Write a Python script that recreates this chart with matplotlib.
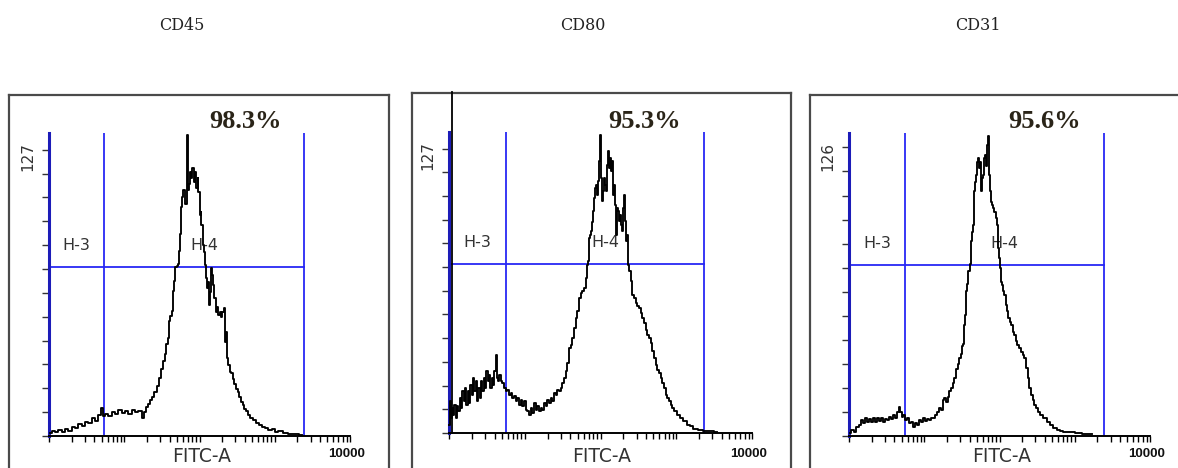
import matplotlib
matplotlib.use("Agg")
import matplotlib.pyplot as plt
import numpy as np

W, H = 1178, 468

titles = ["CD45", "CD80", "CD31"]
percents = ["98.3%", "95.3%", "95.6%"]
ymax_labels = [127, 127, 126]
gate_low = [10 ** 0.73, 10 ** 0.75, 10 ** 0.745]
gate_high = [10 ** 3.39, 10 ** 3.37, 10 ** 3.39]
gate_height = [71, 71.5, 71]
gate_names = ["H-3", "H-4"]
x_label = "FITC-A"
x_end_label = "10000"

# histogram readings: log10(FITC) position, event count
p1_dec = [0.013, 0.058, 0.102, 0.146, 0.190, 0.235, 0.279, 0.323, 0.368, 0.412,
          0.456, 0.501, 0.545, 0.589, 0.633, 0.678, 0.700, 0.722, 0.766, 0.811,
          0.855, 0.899, 0.944, 0.988, 1.032, 1.076, 1.121, 1.165, 1.209, 1.254,
          1.276, 1.298, 1.329, 1.355, 1.386, 1.417, 1.444, 1.475, 1.497, 1.524,
          1.550, 1.568, 1.586, 1.604, 1.621, 1.643, 1.657, 1.674, 1.688, 1.705,
          1.719, 1.732, 1.745, 1.759, 1.772, 1.798, 1.821, 1.834, 1.843, 1.852,
          1.865, 1.878, 1.896, 1.914, 1.931, 1.949, 1.967, 1.980, 1.993, 2.007,
          2.020, 2.033, 2.047, 2.064, 2.078, 2.095, 2.109, 2.122, 2.135, 2.149,
          2.162, 2.175, 2.188, 2.206, 2.224, 2.241, 2.259, 2.277, 2.295, 2.312,
          2.330, 2.343, 2.361, 2.375, 2.392, 2.410, 2.428, 2.450, 2.472, 2.494,
          2.516, 2.538, 2.560, 2.583, 2.605, 2.627, 2.658, 2.693, 2.729, 2.764,
          2.804, 2.848, 2.893, 2.937, 2.981, 3.025, 3.070, 3.136, 3.203, 3.269,
          3.358]
p1_cnt = [1.1, 2.1, 1.5, 2.5, 1.8, 2.9, 2.1, 3.9, 3.2, 4.9,
          4.3, 6.0, 5.3, 7.4, 6.3, 8.8, 11.6, 8.5, 9.1, 8.5,
          9.9, 9.1, 10.9, 9.5, 10.5, 9.4, 10.9, 9.9, 10.5, 7.7,
          10.2, 12.3, 13.3, 15.1, 16.5, 18.6, 20.8, 24.3, 27.9, 31.4,
          34.2, 38.4, 41.2, 48.2, 50.3, 52.4, 60.9, 65.1, 70.7, 71.4,
          72.1, 77.7, 84.7, 95.9, 100.1, 102.9, 97.3, 102.9, 126.1, 102.9,
          105.7, 110.8, 108.0, 112.2, 106.6, 110.8, 103.8, 108.0, 102.4, 92.6,
          94.0, 88.4, 80.0, 77.2, 71.6, 66.1, 61.9, 64.7, 54.9, 60.5,
          70.3, 67.5, 63.3, 57.7, 52.1, 54.2, 50.7, 52.1, 50.0, 52.1,
          53.5, 39.5, 43.7, 32.5, 29.7, 26.9, 26.2, 24.0, 21.9, 19.8,
          18.4, 16.3, 14.2, 12.8, 11.4, 10.3, 8.8, 7.4, 6.7, 5.3,
          4.6, 3.9, 3.2, 2.5, 2.8, 1.8, 2.1, 1.1, 0.7, 1.0,
          0.4]

p2_dec = [0.004, 0.018, 0.031, 0.044, 0.062, 0.079, 0.097, 0.114, 0.132, 0.150,
          0.167, 0.185, 0.202, 0.220, 0.238, 0.255, 0.273, 0.290, 0.308, 0.326,
          0.343, 0.361, 0.378, 0.396, 0.414, 0.431, 0.449, 0.466, 0.484, 0.502,
          0.519, 0.537, 0.554, 0.572, 0.590, 0.607, 0.625, 0.638, 0.651, 0.673,
          0.695, 0.717, 0.739, 0.761, 0.783, 0.805, 0.827, 0.849, 0.871, 0.893,
          0.915, 0.937, 0.959, 0.981, 1.003, 1.025, 1.047, 1.069, 1.091, 1.113,
          1.135, 1.157, 1.179, 1.201, 1.223, 1.245, 1.267, 1.289, 1.311, 1.333,
          1.355, 1.377, 1.399, 1.421, 1.443, 1.465, 1.487, 1.509, 1.531, 1.553,
          1.575, 1.597, 1.619, 1.641, 1.663, 1.685, 1.707, 1.729, 1.751, 1.773,
          1.795, 1.817, 1.831, 1.844, 1.857, 1.870, 1.883, 1.897, 1.910, 1.923,
          1.936, 1.949, 1.963, 1.976, 1.989, 2.002, 2.015, 2.024, 2.037, 2.050,
          2.064, 2.077, 2.090, 2.103, 2.116, 2.130, 2.143, 2.156, 2.169, 2.182,
          2.195, 2.209, 2.222, 2.235, 2.248, 2.262, 2.275, 2.288, 2.301, 2.314,
          2.328, 2.341, 2.354, 2.367, 2.389, 2.411, 2.433, 2.455, 2.477, 2.499,
          2.521, 2.543, 2.565, 2.587, 2.609, 2.631, 2.653, 2.675, 2.697, 2.719,
          2.741, 2.763, 2.785, 2.807, 2.829, 2.851, 2.873, 2.895, 2.917, 2.939,
          2.961, 2.984, 3.028, 3.072, 3.116, 3.160, 3.204, 3.248, 3.314, 3.380,
          3.468, 3.534]
p2_cnt = [3.5, 13.4, 6.3, 10.5, 7.7, 12.0, 6.3, 11.3, 9.1, 14.8,
          10.5, 17.6, 13.4, 19.0, 12.0, 17.6, 12.7, 20.4, 16.2, 23.2,
          17.6, 21.8, 13.4, 19.0, 14.8, 21.8, 17.6, 23.2, 19.0, 26.0,
          21.8, 24.6, 19.0, 23.2, 20.4, 26.0, 33.1, 23.2, 21.8, 24.6,
          21.8, 21.1, 19.0, 17.6, 18.3, 16.2, 16.9, 14.8, 15.5, 13.4,
          14.8, 12.0, 14.1, 11.3, 13.4, 9.8, 9.1, 7.7, 10.5, 8.4,
          12.7, 9.8, 11.3, 9.1, 10.5, 9.8, 12.7, 11.3, 14.1, 12.7,
          14.8, 13.4, 16.9, 16.2, 18.3, 17.6, 19.0, 21.1, 23.2, 26.0,
          29.5, 35.9, 37.3, 40.1, 44.3, 48.5, 51.3, 56.9, 59.1, 59.8,
          61.2, 65.4, 71.0, 72.4, 82.3, 83.7, 85.1, 89.0, 93.5, 99.2,
          103.4, 104.8, 100.6, 106.2, 114.6, 125.9, 107.6, 97.7, 101.9, 107.6,
          104.8, 101.9, 113.2, 118.8, 111.8, 116.0, 110.4, 114.6, 100.6, 104.8,
          96.3, 83.7, 94.9, 93.5, 89.3, 92.1, 87.9, 85.1, 94.9, 100.6,
          89.3, 80.9, 83.7, 71.0, 68.2, 64.0, 58.4, 57.0, 54.9, 53.4,
          52.7, 50.6, 48.5, 46.4, 43.6, 41.5, 40.1, 37.8, 34.5, 31.6,
          28.8, 26.7, 25.3, 23.2, 21.1, 19.0, 16.2, 14.8, 13.4, 12.0,
          10.5, 9.1, 7.7, 6.3, 4.9, 3.5, 2.8, 1.8, 1.4, 1.0,
          0.7, 0.4]

p3_dec = [0.013, 0.044, 0.080, 0.115, 0.146, 0.177, 0.204, 0.230, 0.257, 0.284,
          0.310, 0.337, 0.363, 0.390, 0.416, 0.443, 0.470, 0.496, 0.523, 0.549,
          0.576, 0.602, 0.629, 0.656, 0.669, 0.687, 0.709, 0.735, 0.762, 0.788,
          0.815, 0.842, 0.868, 0.895, 0.921, 0.948, 0.975, 1.001, 1.028, 1.054,
          1.081, 1.107, 1.134, 1.161, 1.187, 1.209, 1.231, 1.254, 1.276, 1.298,
          1.320, 1.342, 1.364, 1.387, 1.409, 1.431, 1.453, 1.475, 1.497, 1.511,
          1.524, 1.537, 1.550, 1.564, 1.577, 1.595, 1.612, 1.630, 1.643, 1.657,
          1.670, 1.683, 1.697, 1.710, 1.723, 1.737, 1.750, 1.763, 1.776, 1.790,
          1.803, 1.816, 1.830, 1.843, 1.852, 1.865, 1.878, 1.892, 1.905, 1.923,
          1.940, 1.958, 1.971, 1.984, 1.998, 2.011, 2.024, 2.038, 2.055, 2.073,
          2.091, 2.109, 2.126, 2.144, 2.162, 2.184, 2.206, 2.228, 2.250, 2.272,
          2.295, 2.317, 2.339, 2.361, 2.383, 2.405, 2.427, 2.450, 2.472, 2.494,
          2.516, 2.560, 2.605, 2.649, 2.693, 2.738, 2.782, 2.826, 2.870, 2.959,
          3.048, 3.136, 3.225]
p3_cnt = [1.1, 2.5, 1.8, 3.9, 4.6, 6.7, 5.3, 7.3, 6.0, 7.1,
          5.7, 7.3, 6.0, 7.6, 6.2, 7.3, 6.0, 7.1, 6.7, 8.0,
          7.1, 8.7, 7.6, 10.1, 12.2, 9.8, 8.0, 8.7, 6.7, 7.6,
          5.3, 6.0, 3.9, 5.3, 4.6, 6.7, 5.7, 7.3, 6.2, 7.1,
          6.7, 7.6, 7.3, 8.7, 9.8, 11.5, 10.8, 15.0, 15.7, 14.3,
          16.4, 18.6, 20.0, 22.1, 24.3, 27.7, 29.8, 32.6, 34.0, 37.5,
          38.1, 46.2, 50.5, 60.2, 63.1, 68.6, 71.4, 80.9, 85.0, 87.9,
          101.7, 105.8, 108.6, 114.1, 115.5, 111.4, 114.1, 101.7, 107.2, 108.6,
          115.5, 116.9, 112.1, 121.2, 124.7, 108.6, 101.7, 97.5, 96.1, 94.7,
          93.3, 90.6, 87.9, 78.1, 74.0, 69.8, 64.2, 62.8, 60.1, 58.7,
          54.5, 51.8, 49.0, 47.6, 46.2, 43.4, 42.0, 39.3, 37.9, 36.5,
          35.1, 33.7, 32.3, 28.2, 24.0, 19.8, 17.1, 15.0, 12.9, 11.5,
          10.1, 8.7, 7.3, 6.0, 4.6, 3.5, 2.5, 2.1, 1.8, 1.5,
          1.1, 1.0, 0.7]

series = [(p1_dec, p1_cnt), (p2_dec, p2_cnt), (p3_dec, p3_cnt)]

# layout in pixels (y-axis x, decade width, bottom, top, frame l/t/r, title x)
layout = [
    dict(x0=49, dw=75.25, yb=436, yt=133, fl=9, ft=95, fr=389, tx=182),
    dict(x0=449, dw=75.75, yb=433, yt=132, fl=412, ft=93, fr=791, tx=583),
    dict(x0=849, dw=75.25, yb=436, yt=133, fl=810, ft=95, fr=1200, tx=978),
]

BLUE = "#2727f5"
fig = plt.figure(figsize=(W / 100, H / 100), dpi=100)
fig.patch.set_facecolor("white")


def fx(px):
    return px / W


def fy(py):
    return 1 - py / H


for i, L in enumerate(layout):
    # outer frame (bottom edge lies below the figure)
    fa = fig.add_axes([fx(L["fl"]), fy(520), fx(L["fr"] - L["fl"]), (520 - L["ft"]) / H])
    fa.set_xticks([]); fa.set_yticks([])
    fa.set_facecolor("none")
    for s in fa.spines.values():
        s.set_color("#4a4a4a"); s.set_linewidth(1.6)
    fa.set_zorder(0)

    ax = fig.add_axes([fx(L["x0"]), fy(L["yb"]), fx(4 * L["dw"]), (L["yb"] - L["yt"]) / H])
    ax.set_facecolor("none")
    ax.set_zorder(1)
    ymax = ymax_labels[i]
    ax.set_xscale("log")
    ax.set_xlim(1, 1e4)
    ax.set_ylim(0, ymax)
    for s in ["top", "right"]:
        ax.spines[s].set_visible(False)
    ax.spines["left"].set_color("#1c1cb8")
    ax.spines["left"].set_linewidth(2.2)
    ax.spines["bottom"].set_color("black")
    ax.spines["bottom"].set_linewidth(1.4)
    ax.set_xticks([1, 10, 100, 1000, 10000])
    ax.xaxis.set_minor_locator(matplotlib.ticker.LogLocator(base=10, subs=np.arange(2, 10)))
    ax.xaxis.set_minor_formatter(matplotlib.ticker.NullFormatter())
    ax.set_xticklabels([])
    ax.tick_params(axis="x", which="both", direction="out", length=4, width=1, color="black")
    ax.set_yticks(np.arange(0, ymax, 10))
    ax.set_yticklabels([])
    ax.tick_params(axis="y", direction="out", length=5, width=1, color="#333333")

    # gates
    lo, hi, gh = gate_low[i], gate_high[i], gate_height[i]
    ax.axvline(lo, color=BLUE, lw=1.3, zorder=2)
    ax.axvline(hi, color=BLUE, lw=1.3, zorder=2)
    ax.plot([1, hi], [gh, gh], color=BLUE, lw=1.3, zorder=2, clip_on=False)
    ax.text(np.sqrt(1 * lo), gh + 9, gate_names[0], ha="center", va="center",
            fontsize=11.5, color="#333333", family="DejaVu Sans", zorder=2)
    ax.text(np.sqrt(lo * hi), gh + 9, gate_names[1], ha="center", va="center",
            fontsize=11.5, color="#333333", family="DejaVu Sans", zorder=2)

    d, c = series[i]
    ax.plot(10 ** np.array(d), c, color="black", lw=1.35, drawstyle="steps-mid",
            zorder=3, clip_on=False)

    # texts
    fig.text(fx(L["tx"]), fy(26), titles[i], ha="center", va="center",
             fontsize=11.5, family="DejaVu Serif", color="#222222")
    fig.text(fx(L["x0"] + 196), fy(121), percents[i], ha="center", va="center",
             fontsize=19, family="Liberation Serif", weight="bold", color="#2a2418")
    fig.text(fx(L["x0"] - 21), fy(L["yt"] + 24), str(ymax), ha="center", va="center",
             rotation=90, fontsize=11, family="DejaVu Sans", color="#333333")
    fig.text(fx(L["x0"] + 153), fy(456), x_label, ha="center", va="center",
             fontsize=13.5, family="DejaVu Sans", color="#333333")
    fig.text(fx(L["x0"] + 4 * L["dw"] - 3), fy(454), x_end_label, ha="center", va="center",
             fontsize=9.5, family="Liberation Sans", weight="bold", color="#111111")

# extra vertical line on middle panel
fig.add_artist(plt.Line2D([fx(452), fx(452)], [fy(92), fy(433)], color="black", lw=1.3))

fig.savefig("out.png", dpi=100, facecolor="white")
